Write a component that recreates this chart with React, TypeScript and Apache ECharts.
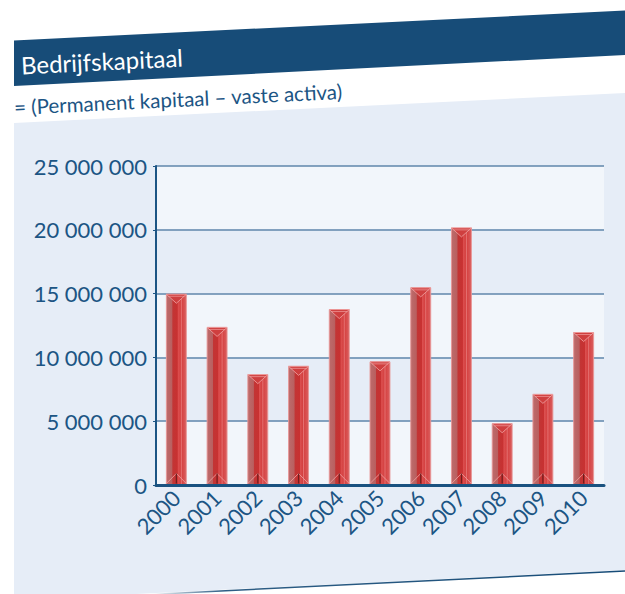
import React, { useEffect, useRef } from "react";
import * as echarts from "echarts";

const categories = ["2000", "2001", "2002", "2003", "2004", "2005", "2006", "2007", "2008", "2009", "2010"];
const values = [14950000, 12350000, 8650000, 9300000, 13750000, 9650000, 15450000, 20150000, 4800000, 7100000, 11950000];
const yTicks = [0, 5000000, 10000000, 15000000, 20000000, 25000000];
const titleText = "Bedrijfskapitaal";
const subtitleText = "= (Permanent kapitaal \u2013 vaste activa)";

const DARK = "#174c78";
const TXT = "#1c5584";
const FONT = "Lato, 'Open Sans', sans-serif";
const ANG = 0.049;

function fmt(v: number) {
  return String(v).replace(/\B(?=(\d{3})+(?!\d))/g, " ");
}

export default function App() {
  const ref = useRef<HTMLDivElement>(null);
  useEffect(() => {
    const chart = echarts.init(ref.current!, undefined, { renderer: "svg" });
    const option: any = {
      animation: false,
      backgroundColor: "#ffffff",
      graphic: [
        {
          type: "polygon",
          z: -100,
          silent: true,
          shape: { points: [[14, 123], [625, 93], [625, 570], [14, 600]] },
          style: { fill: "#e6edf7" },
        },
        {
          type: "line",
          z: -99,
          silent: true,
          shape: { x1: 150, y1: 594.5, x2: 625, y2: 571 },
          style: {
            stroke: new echarts.graphic.LinearGradient(0, 0, 1, 0, [
              { offset: 0, color: "rgba(23,76,120,0)" },
              { offset: 0.15, color: "rgba(23,76,120,0.9)" },
              { offset: 1, color: "rgba(23,76,120,1)" },
            ]),
            lineWidth: 1.5,
          },
        },
        {
          type: "polygon",
          z: -98,
          silent: true,
          shape: { points: [[14, 40.5], [625, 10.5], [625, 55], [14, 86]] },
          style: { fill: DARK },
        },
        {
          type: "text",
          z: 100,
          x: 21,
          y: 65,
          rotation: ANG,
          style: {
            text: titleText,
            fill: "#ffffff",
            font: `400 24px ${FONT}`,
            verticalAlign: "middle",
            align: "left",
          },
        },
        {
          type: "text",
          z: 100,
          x: 14,
          y: 107,
          rotation: ANG,
          style: {
            text: subtitleText,
            fill: TXT,
            font: `400 20.5px ${FONT}`,
            verticalAlign: "middle",
            align: "left",
          },
        },
      ],
      grid: { left: 156, right: 21, top: 166, bottom: 109, containLabel: false },
      xAxis: {
        type: "category",
        data: categories,
        axisLine: { show: true, lineStyle: { color: "#1a5280", width: 3 } },
        axisTick: { show: false },
        axisLabel: {
          rotate: 45,
          color: TXT,
          fontFamily: FONT,
          fontSize: 22,
          margin: 9,
          interval: 0,
        },
        splitLine: { show: false },
        z: 5,
      },
      yAxis: {
        type: "value",
        min: 0,
        max: 25000000,
        interval: 5000000,
        axisLine: { show: true, lineStyle: { color: "#1c5584", width: 2 } },
        axisTick: { show: true, length: 3, lineStyle: { color: "#1c5584", width: 1 } },
        axisLabel: {
          color: TXT,
          fontFamily: FONT,
          fontSize: 22,
          margin: 9,
          formatter: (v: number) => (yTicks.includes(v) ? fmt(v) : ""),
        },
        splitLine: { show: true, lineStyle: { color: "#5f86ab", width: 1.5 } },
        splitArea: { show: true, areaStyle: { color: ["#f2f6fb", "#e6edf7"] } },
      },
      series: [
        {
          type: "custom",
          data: values.map((v, i) => [i, v]),
          encode: { x: 0, y: 1 },
          z: 3,
          renderItem: (params: any, api: any) => {
            const c = api.value(0);
            const v = api.value(1);
            const top = api.coord([c, v]);
            const bot = api.coord([c, 0]);
            const w = api.size([1, 0])[0] * 0.49;
            const x = top[0] - w / 2;
            const y = top[1];
            const h = bot[1] - top[1];
            const cx = top[0];
            const by = bot[1] - 1.5;
            return {
              type: "group",
              children: [
                {
                  type: "rect",
                  shape: { x, y, width: w, height: h },
                  style: {
                    fill: new echarts.graphic.LinearGradient(0, 0, 1, 0, [
                      { offset: 0, color: "#bd6c6c" },
                      { offset: 0.28, color: "#b95f5f" },
                      { offset: 0.32, color: "#c23535" },
                      { offset: 0.55, color: "#c83131" },
                      { offset: 0.58, color: "#dc5050" },
                      { offset: 0.7, color: "#d44141" },
                      { offset: 0.75, color: "#e57070" },
                      { offset: 0.8, color: "#d64545" },
                      { offset: 1, color: "#da6060" },
                    ]),
                    stroke: "rgba(232,150,150,0.9)",
                    lineWidth: 1,
                  },
                },
                {
                  type: "polygon",
                  shape: { points: [[x, y], [x + w, y], [cx, y + 9]] },
                  style: { fill: "#cf3f3f", stroke: "#f0a5a5", lineWidth: 0.8 },
                },
                {
                  type: "line",
                  shape: { x1: x + 2, y1: y + 2, x2: x + w - 2, y2: y + 2 },
                  style: { stroke: "rgba(245,170,170,0.8)", lineWidth: 0.8 },
                },
                {
                  type: "polyline",
                  shape: { points: [[x, by], [cx, by - 10], [x + w, by]] },
                  style: { stroke: "#ec9a9a", lineWidth: 0.9, fill: null },
                },
                {
                  type: "line",
                  shape: { x1: cx, y1: by - 10, x2: cx, y2: by },
                  style: { stroke: "#6e1e1e", lineWidth: 1.2 },
                },
              ],
            };
          },
        },
      ],
    };
    chart.setOption(option);
    return () => chart.dispose();
  }, []);
  return <div ref={ref} style={{ width: 625, height: 594, position: "absolute", left: 0, top: 0 }} />;
}
